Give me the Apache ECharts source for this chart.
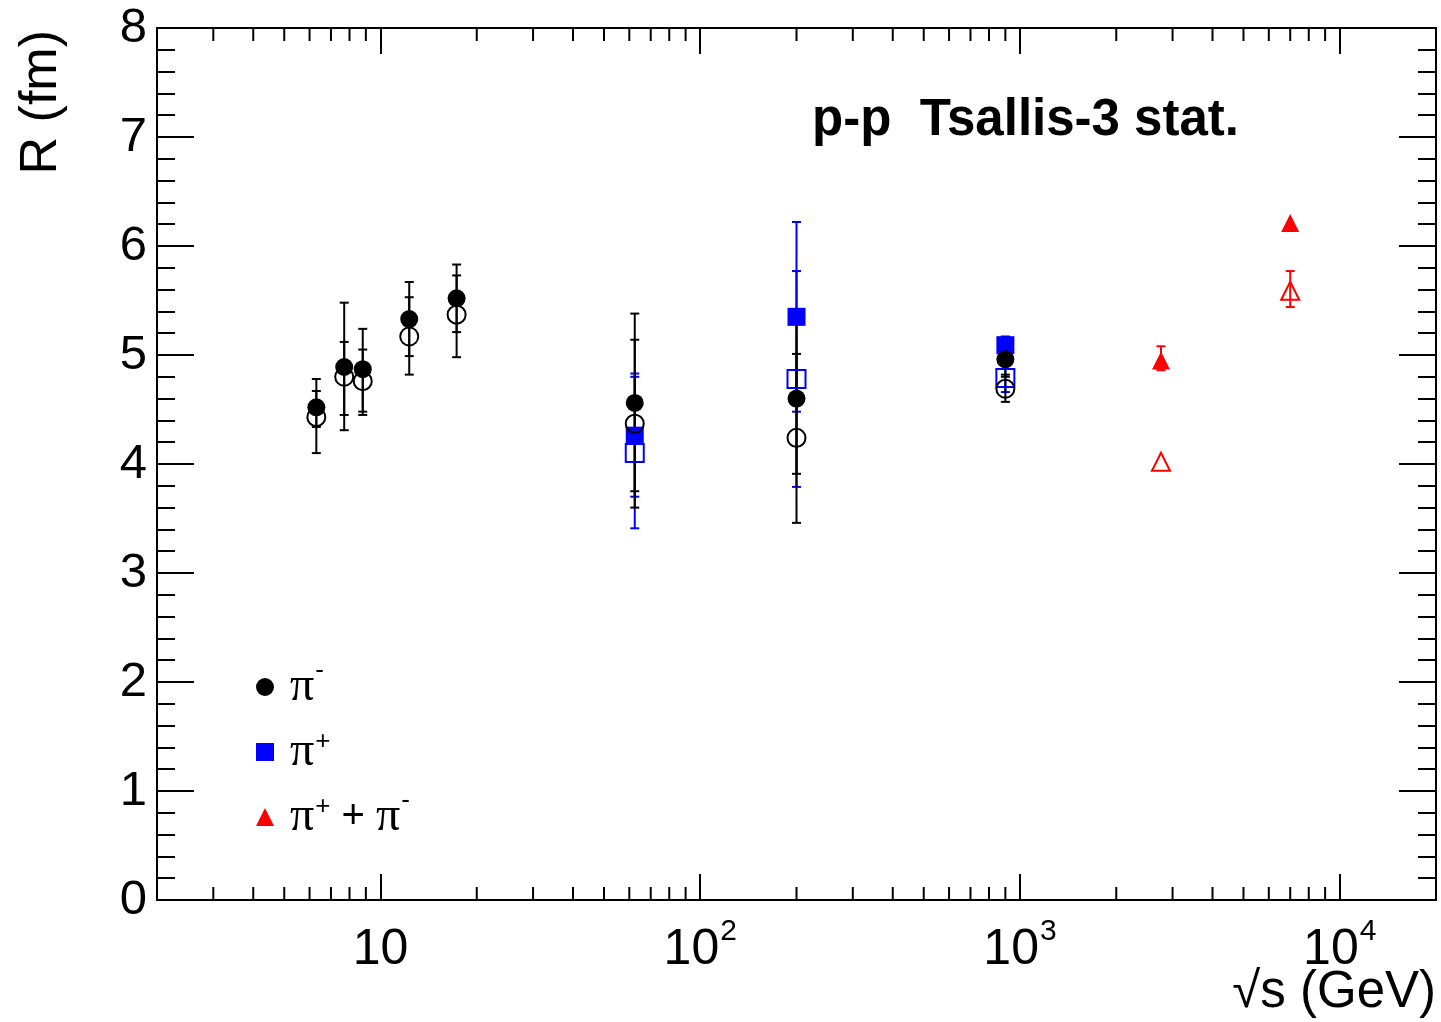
<!DOCTYPE html>
<html><head><meta charset="utf-8">
<script src="https://cdn.jsdelivr.net/npm/echarts@6/dist/echarts.min.js"></script>
<style>html,body{margin:0;padding:0;background:#fff;} #c{width:1441px;height:1022px;}</style>
</head><body><div id="c"></div>
<script>
// sqrt(s) in GeV
const energies = [6.3, 7.7, 8.8, 12.3, 17.3, 62.4, 200, 900];
// pi- : filled and open circles, with error-bar ends
const pimFilled   = [4.52, 4.89, 4.87, 5.33, 5.52, 4.56, 4.60, 4.96];
const pimFilledLo = [4.34, 4.31, 4.48, 4.99, 5.21, 3.75, 3.91, 4.80];
const pimFilledHi = [4.67, 5.48, 5.24, 5.67, 5.83, 5.38, 5.31, 5.13];
const pimOpen     = [4.43, 4.80, 4.76, 5.17, 5.37, 4.37, 4.24, 4.69];
const pimOpenLo   = [4.10, 4.45, 4.45, 4.82, 4.98, 3.60, 3.46, 4.57];
const pimOpenHi   = [4.78, 5.12, 5.05, 5.53, 5.73, 5.14, 5.01, 4.82];
// pi+ : filled and open squares
const pipEnergies = [62.4, 200, 900];
const pipFilled   = [4.26, 5.35, 5.09];
const pipFilledLo = [3.70, 4.48, 5.02];
const pipFilledHi = [4.80, 6.22, 5.17];
const pipOpen     = [4.10, 4.78, 4.79];
const pipOpenLo   = [3.41, 3.79, 4.66];
const pipOpenHi   = [4.83, 5.77, 4.90];
// pi+ + pi- : filled and open triangles
const lhcEnergies = [2760, 7000];
const sumFilled   = [4.95, 6.21];
const sumFilledLo = [4.86, null];
const sumFilledHi = [5.08, null];
const sumOpen     = [4.02, 5.59];
const sumOpenLo   = [null, 5.44];
const sumOpenHi   = [null, 5.77];
// axis ranges and tick values
const xRange = [2, 20000];
const yRange = [0, 8];
const xMinorTicks = [3,4,5,6,7,8,9, 20,30,40,50,60,70,80,90, 200,300,400,500,600,700,800,900, 2000,3000,4000,5000,6000,7000,8000,9000];
const legendNames = ['pim', 'pip', 'pipm'];

const FONT = 'Liberation Sans';
const zip = (xs, ys) => xs.map((x, i) => [x, ys[i]]);
const errData = (xs, lo, hi) => xs.map((x, i) => lo[i] == null ? null : [x, lo[i], hi[i]]).filter(Boolean);

function errSeries(data, color) {
  return {
    type: 'custom', data: data, z: 1, silent: true, encode: { x: 0, y: [1, 2] },
    renderItem: function (params, api) {
      const x = api.value(0);
      const a = api.coord([x, api.value(1)]);
      const b = api.coord([x, api.value(2)]);
      const w = 4.5;
      const st = { stroke: color, lineWidth: 2 };
      return { type: 'group', children: [
        { type: 'line', shape: { x1: a[0], y1: a[1], x2: b[0], y2: b[1] }, style: st },
        { type: 'line', shape: { x1: a[0] - w, y1: a[1], x2: a[0] + w, y2: a[1] }, style: st },
        { type: 'line', shape: { x1: b[0] - w, y1: b[1], x2: b[0] + w, y2: b[1] }, style: st }
      ]};
    }
  };
}

const minorTickSeries = {
  type: 'custom', data: xMinorTicks.map(v => [v, yRange[0]]), z: 1, silent: true, encode: { x: 0, y: 1 },
  renderItem: function (params, api) {
    const p = api.coord([api.value(0), api.value(1)]);
    const cs = params.coordSys;
    const top = cs.y, bot = cs.y + cs.height;
    const st = { stroke: '#000', lineWidth: 2 };
    return { type: 'group', children: [
      { type: 'line', shape: { x1: p[0], y1: bot, x2: p[0], y2: bot - 13 }, style: st },
      { type: 'line', shape: { x1: p[0], y1: top, x2: p[0], y2: top + 13 }, style: st }
    ]};
  }
};

function scatter(name, data, symbol, color, filled, z) {
  return {
    name: name, type: 'scatter', data: data, symbol: symbol, symbolSize: 18, z: z,
    emphasis: { disabled: true },
    itemStyle: filled ? { color: color, opacity: 1 }
                      : { color: 'rgba(0,0,0,0)', borderColor: color, borderWidth: 2, opacity: 1 }
  };
}

const xAxisBase = {
  type: 'log', logBase: 10, min: xRange[0], max: xRange[1],
  axisLine: { show: true, onZero: false, lineStyle: { color: '#000', width: 2 } },
  axisTick: { show: true, inside: true, length: 26, lineStyle: { color: '#000', width: 2 } },
  splitLine: { show: false }, minorTick: { show: false }
};
const yAxisBase = {
  type: 'value', min: yRange[0], max: yRange[1], interval: 1,
  axisLine: { show: true, onZero: false, lineStyle: { color: '#000', width: 2 } },
  axisTick: { show: true, inside: true, length: 37, lineStyle: { color: '#000', width: 2 } },
  minorTick: { show: true, splitNumber: 5, length: 18, lineStyle: { color: '#000', width: 2 } },
  splitLine: { show: false }
};

const chart = echarts.init(document.getElementById('c'), null, { renderer: 'canvas' });
chart.setOption({
  animation: false,
  backgroundColor: '#fff',
  grid: { left: 157, top: 28, width: 1279, height: 872, containLabel: false },
  title: {
    text: 'p-p  Tsallis-3 stat.', left: 812, top: 95, padding: 0,
    textStyle: { fontFamily: FONT, fontWeight: 'bold', fontSize: 51, color: '#000' }
  },
  legend: {
    data: legendNames, orient: 'vertical', left: 256, top: 658, itemGap: 12, padding: 0,
    itemWidth: 18, itemHeight: 18, selectedMode: false,
    formatter: function (name) {
      return {
        pim: '{p0|π}{m|-}',
        pip: '{p0|π}{s|+}',
        pipm: '{p0|π}{s|+}{o| + }{p|π}{m|-}'
      }[name];
    },
    textStyle: {
      color: '#000',
      rich: {
        p0: { fontFamily: 'Liberation Serif', fontSize: 48, lineHeight: 30, padding: [0, 0, 0, 11], color: '#000' },
        p: { fontFamily: 'Liberation Serif', fontSize: 48, lineHeight: 30, color: '#000' },
        s: { fontFamily: FONT, fontSize: 26, lineHeight: 10, padding: [0, 0, 20, 1], color: '#000' },
        m: { fontFamily: FONT, fontSize: 26, lineHeight: 10, padding: [0, 0, 32, 1], color: '#000' },
        o: { fontFamily: FONT, fontSize: 40, lineHeight: 30, color: '#000' }
      }
    }
  },
  xAxis: [
    Object.assign({}, xAxisBase, {
      position: 'bottom',
      axisLabel: {
        show: true, margin: 26, showMinLabel: false, showMaxLabel: false,
        formatter: function (v) {
          const e = Math.log10(v);
          if (Math.abs(e - Math.round(e)) > 1e-6) return '';
          const k = Math.round(e);
          return k === 1 ? '{b|10}' : '{b|10}{s|' + k + '}';
        },
        rich: {
          b: { fontFamily: FONT, fontSize: 50, lineHeight: 48, color: '#000' },
          s: { fontFamily: FONT, fontSize: 30, lineHeight: 12, padding: [0, 0, 36, 1], color: '#000' }
        }
      }
    }),
    Object.assign({}, xAxisBase, { position: 'top', axisLabel: { show: false } })
  ],
  yAxis: [
    Object.assign({}, yAxisBase, {
      position: 'left',
      axisLabel: { show: true, margin: 10, fontFamily: FONT, fontSize: 49, color: '#000' }
    }),
    Object.assign({}, yAxisBase, { position: 'right', axisLabel: { show: false } })
  ],
  graphic: [
    { type: 'text', x: 42, y: 30, rotation: Math.PI / 2, silent: true,
      style: { text: 'R (fm)', font: '52px "Liberation Sans"', fill: '#000', align: 'right', verticalAlign: 'middle' } },
    { type: 'text', x: 1436, y: 993, silent: true,
      style: { text: '√s (GeV)', font: '51px "Liberation Sans"', fill: '#000', align: 'right', verticalAlign: 'middle' } }
  ],
  series: [
    minorTickSeries,
    errSeries(errData(pipEnergies, pipFilledLo, pipFilledHi), '#0000ff'),
    errSeries(errData(pipEnergies, pipOpenLo, pipOpenHi), '#0000ff'),
    errSeries(errData(energies, pimOpenLo, pimOpenHi), '#000'),
    errSeries(errData(energies, pimFilledLo, pimFilledHi), '#000'),
    errSeries(errData(lhcEnergies, sumFilledLo, sumFilledHi), '#ff0000'),
    errSeries(errData(lhcEnergies, sumOpenLo, sumOpenHi), '#ff0000'),
    scatter('pip', zip(pipEnergies, pipFilled), 'rect', '#0000ff', true, 2),
    scatter('pipOpen', zip(pipEnergies, pipOpen), 'rect', '#0000ff', false, 3),
    scatter('pimOpen', zip(energies, pimOpen), 'circle', '#000', false, 4),
    scatter('pim', zip(energies, pimFilled), 'circle', '#000', true, 5),
    scatter('pipm', zip(lhcEnergies, sumFilled), 'triangle', '#ff0000', true, 5),
    scatter('pipmOpen', zip(lhcEnergies, sumOpen), 'triangle', '#ff0000', false, 5)
  ]
});
</script>
</body></html>
